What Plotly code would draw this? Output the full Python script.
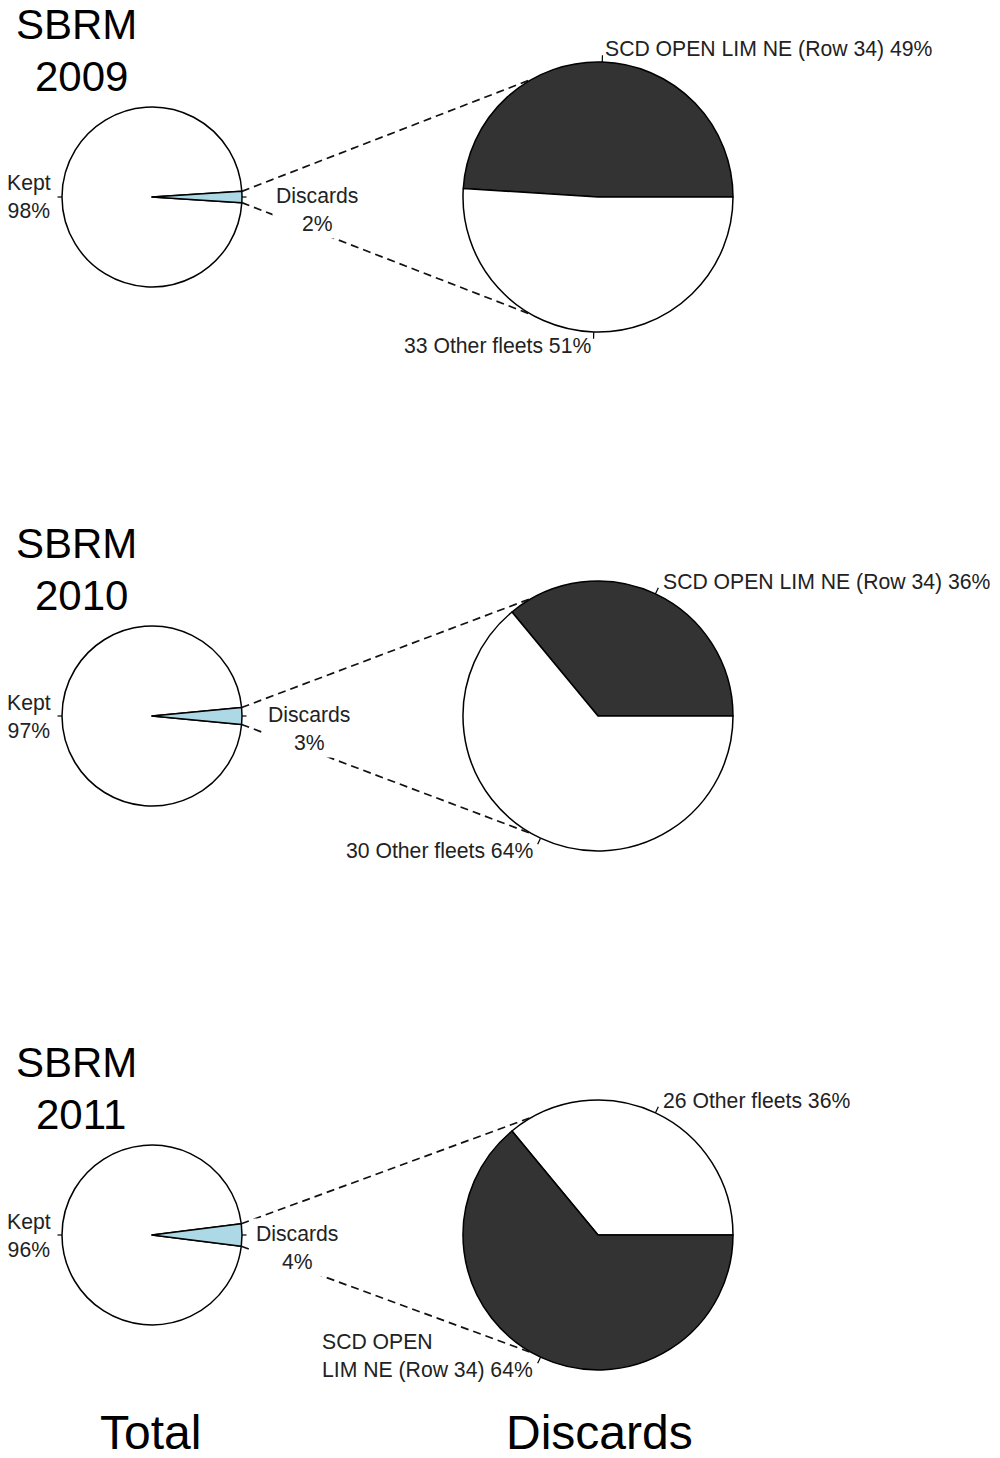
import math
import plotly.graph_objects as go

# ---------------- data ----------------
years = [2009, 2010, 2011]
total_labels = ["Kept", "Discards"]
kept_pct = [98, 97, 96]
discard_pct = [2, 3, 4]
total_colors = ["white", "#ADD8E6"]

fleet_names = [
    ["SCD OPEN LIM NE (Row 34)", "33 Other fleets"],
    ["SCD OPEN LIM NE (Row 34)", "30 Other fleets"],
    ["26 Other fleets", "SCD OPEN\nLIM NE (Row 34)"],
]
fleet_pct = [[49, 51], [36, 64], [36, 64]]
fleet_colors = [["#333333", "white"], ["#333333", "white"], ["white", "#333333"]]

panel_title = "SBRM"
bottom_labels = ["Total", "Discards"]

# ---------------- layout geometry (page pixels) ----------------
W, H = 1000, 1458          # figure size
OFF = 0                    # page body margin (set to 0 via post_script)
row_cy = [197, 716, 1235]
L_CX, L_R = 152, 90
R_CX, R_R = 598, 135
CONNECT_ANGLE = 119
disc_label_x = [272, 264, 252]
disc_label_dy = 12
FONT = "Liberation Sans, Arial, Helvetica, sans-serif"
LBL = 21.2
LW = 1.5


def px(x):
    return (x - OFF) / W


def py(y):
    return 1 - (y - OFF) / H


def pt(cx, cy, r, ang):
    a = math.radians(ang)
    return cx + r * math.cos(a), cy - r * math.sin(a)


fig = go.Figure()
shapes = []
ann = []

for i, yr in enumerate(years):
    cy = row_cy[i]
    # ---- left pie (total) ----
    tv = [kept_pct[i], discard_pct[i]]
    tot = sum(tv)
    fd = discard_pct[i] / tot
    start = fd * 180.0
    a0 = 360.0 * tv[0] / tot
    rot_l = (90 - start) - a0
    fig.add_trace(go.Pie(
        values=tv, labels=total_labels, sort=False, direction="counterclockwise",
        rotation=rot_l, textinfo="none", hoverinfo="skip", showlegend=False,
        marker=dict(colors=total_colors, line=dict(color="black", width=LW)),
        domain=dict(x=[px(L_CX - L_R), px(L_CX + L_R)],
                    y=[py(cy + L_R), py(cy - L_R)]),
    ))
    # ---- right pie (discards) ----
    fv = fleet_pct[i]
    ftot = sum(fv)
    rot_r = 90 - 360.0 * fv[0] / ftot
    fig.add_trace(go.Pie(
        values=fv, labels=[n.replace("\n", " ") for n in fleet_names[i]], sort=False,
        direction="counterclockwise", rotation=rot_r, textinfo="none",
        hoverinfo="skip", showlegend=False,
        marker=dict(colors=fleet_colors[i], line=dict(color="black", width=LW)),
        domain=dict(x=[px(R_CX - R_R), px(R_CX + R_R)],
                    y=[py(cy + R_R), py(cy - R_R)]),
    ))

    # ---- connectors ----
    for sgn in (1, -1):
        x0, y0 = pt(L_CX, cy, L_R, sgn * fd * 180.0)
        x1, y1 = pt(R_CX, cy, R_R, sgn * CONNECT_ANGLE)
        shapes.append(dict(type="line", xref="paper", yref="paper",
                           x0=px(x0), y0=py(y0), x1=px(x1), y1=py(y1),
                           line=dict(color="#111", width=1.7, dash="8px,5px")))

    # ---- left ticks & labels ----
    for ang in (180.0, 0.0):
        xa, ya = pt(L_CX, cy, L_R, ang)
        xb, yb = pt(L_CX, cy, L_R * 1.05, ang)
        shapes.append(dict(type="line", xref="paper", yref="paper",
                           x0=px(xa), y0=py(ya), x1=px(xb), y1=py(yb),
                           line=dict(color="black", width=1.2)))
    kx, ky = pt(L_CX, cy, L_R * 1.1, 180.0)
    ann.append(dict(x=px(kx), y=py(ky), text=f"{total_labels[0]}<br>{kept_pct[i]}%",
                    xanchor="right", yanchor="middle", align="center",
                    font=dict(size=LBL, color="#222")))
    ann.append(dict(x=px(disc_label_x[i]), y=py(cy + disc_label_dy),
                    text=f"{total_labels[1]}<br>{discard_pct[i]}%",
                    xanchor="left", yanchor="middle", align="center",
                    font=dict(size=LBL, color="#222"), bgcolor="white", borderpad=3))

    # ---- right ticks & labels ----
    acc = 0.0
    for j, v in enumerate(fv):
        mid = 360.0 * (acc + v / 2) / ftot
        acc += v
        xa, ya = pt(R_CX, cy, R_R, mid)
        xb, yb = pt(R_CX, cy, R_R * 1.05, mid)
        shapes.append(dict(type="line", xref="paper", yref="paper",
                           x0=px(xa), y0=py(ya), x1=px(xb), y1=py(yb),
                           line=dict(color="black", width=1.2)))
        lx, ly = pt(R_CX, cy, R_R * 1.1, mid)
        lines = fleet_names[i][j].split("\n")
        nlines = len(lines)
        ly -= (nlines - 1) * LBL * 1.3 / 2
        cosv = math.cos(math.radians(mid))
        ann.append(dict(x=px(lx), y=py(ly),
                        text="<br>".join(lines[:-1] + [f"{lines[-1]} {v}%"]),
                        xanchor="left" if cosv >= 0 else "right", yanchor="middle",
                        align="left", font=dict(size=LBL, color="#222")))

    # ---- panel title ----
    ann.append(dict(x=px(76), y=py(cy - 173), text=panel_title, xanchor="center",
                    yanchor="middle", font=dict(size=42, color="black")))
    ann.append(dict(x=px(81), y=py(cy - 121), text=str(yr), xanchor="center",
                    yanchor="middle", font=dict(size=42, color="black")))

# bottom labels
for x, t in zip([L_CX - 2, R_CX + 1], bottom_labels):
    ann.append(dict(x=px(x), y=py(1432), text=t, xanchor="center", yanchor="middle",
                    font=dict(size=48, color="black")))

for a in ann:
    a.update(xref="paper", yref="paper", showarrow=False)

fig.update_layout(
    width=W, height=H, margin=dict(l=0, r=0, t=0, b=0),
    paper_bgcolor="white", plot_bgcolor="white",
    font=dict(family=FONT),
    shapes=shapes, annotations=ann, showlegend=False,
)

fig.write_html("out.html",
               config={"displayModeBar": False, "staticPlot": True},
               post_script="document.body.style.margin='0px';")
